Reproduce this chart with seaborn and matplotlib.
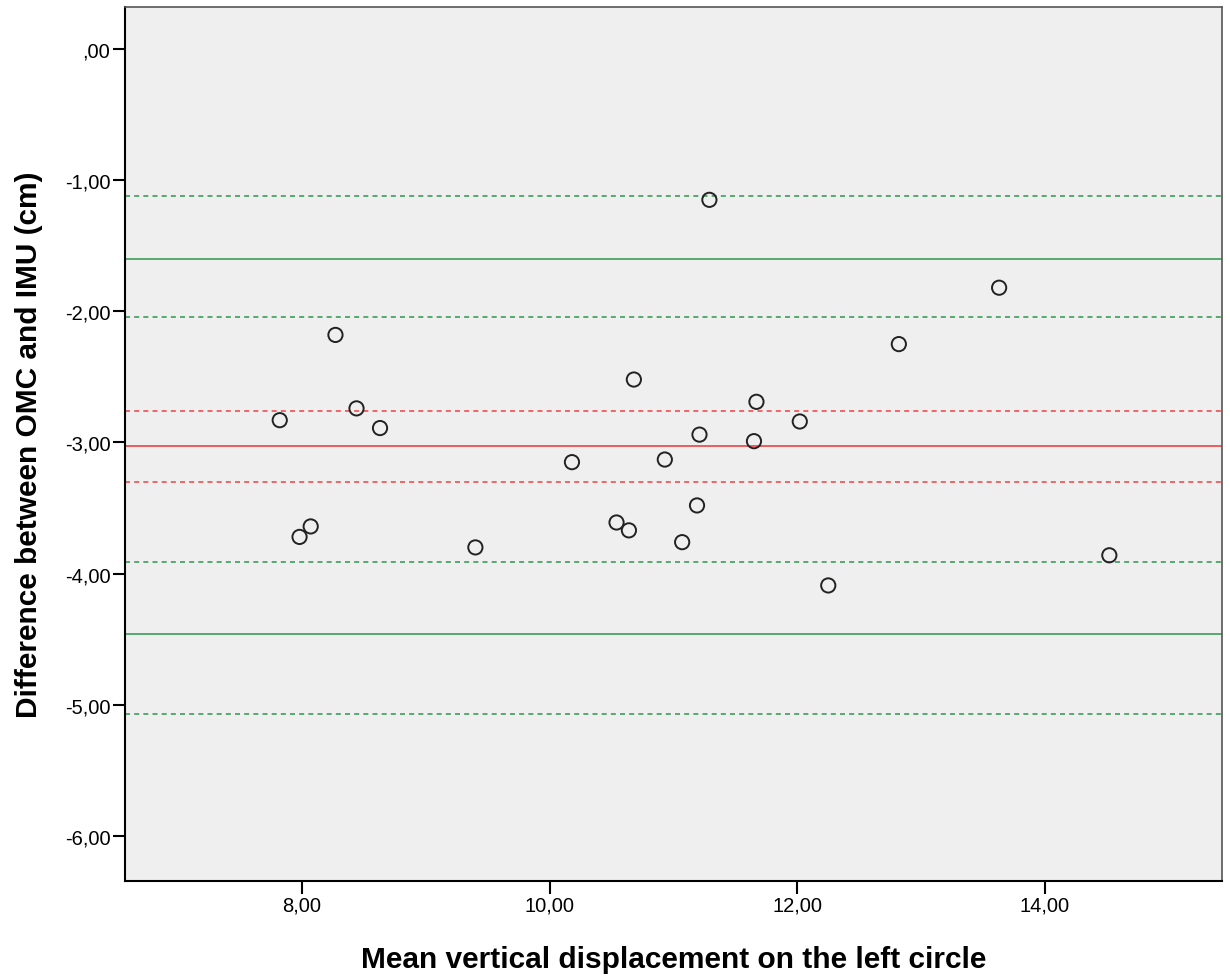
import numpy as np
import pandas as pd
import seaborn as sns
import matplotlib
matplotlib.use("Agg")
import matplotlib.pyplot as plt
from matplotlib.ticker import FuncFormatter

# mean of the two methods / difference between them
mean_disp = [7.82, 8.27, 8.44, 8.63, 7.98, 8.07, 9.40, 10.18, 10.54, 10.64, 10.68, 10.93,
             11.07, 11.19, 11.21, 11.29, 11.65, 11.67, 12.02, 12.25, 12.82, 13.63, 14.52]
diff = [-2.83, -2.18, -2.74, -2.89, -3.72, -3.64, -3.80, -3.15, -3.61, -3.67, -2.52, -3.13,
        -3.76, -3.48, -2.94, -1.15, -2.99, -2.69, -2.84, -4.09, -2.25, -1.82, -3.86]

bias = -3.03
bias_ci = [-2.76, -3.30]
loa = [-1.60, -4.46]
loa_ci = [-1.12, -2.04, -3.91, -5.07]

xticks = [8, 10, 12, 14]
yticks = [0, -1, -2, -3, -4, -5, -6]

df = pd.DataFrame({"mean": mean_disp, "diff": diff})

sns.set_style("white")
plt.rcParams['font.family'] = ['Liberation Sans', 'DejaVu Sans']
plt.rcParams['text.color'] = 'black'
plt.rcParams['axes.labelcolor'] = 'black'
plt.rcParams['xtick.color'] = 'black'
plt.rcParams['ytick.color'] = 'black'

fig = plt.figure(figsize=(12.3, 9.78), dpi=100)
ax = fig.add_axes([0.1016, 0.0982, 0.8919, 0.8936])
ax.set_facecolor('#efefef')

green = '#3c9e5a'
red = '#ee5050'
ax.axhline(bias, color=red, lw=1.3, zorder=1)
for v in bias_ci:
    ax.axhline(v, color=red, lw=1.2, ls=(0, (3, 2.5)), zorder=1)
for v in loa:
    ax.axhline(v, color=green, lw=1.2, zorder=1)
for v in loa_ci:
    ax.axhline(v, color=green, lw=1.2, ls=(0, (3, 2.5)), zorder=1)

sns.scatterplot(data=df, x="mean", y="diff", ax=ax, s=105, facecolor='none',
                edgecolor='#222222', linewidth=1.4, zorder=3)

ax.set_xlim(6.57, 15.43)
ax.set_ylim(-6.343, 0.32)
ax.set_xticks(xticks)
ax.set_yticks(yticks)


def comma_fmt(v, p):
    s = "%.2f" % v
    if v == 0:
        s = s[1:]
    return s.replace(".", ",")


ax.xaxis.set_major_formatter(FuncFormatter(comma_fmt))
ax.yaxis.set_major_formatter(FuncFormatter(comma_fmt))
ax.tick_params(axis='both', length=9, width=1.5, labelsize=14.5, pad=1.5,
               bottom=True, left=True)

for s in ['left', 'bottom']:
    ax.spines[s].set_color('black')
    ax.spines[s].set_linewidth(1.5)
for s in ['top', 'right']:
    ax.spines[s].set_color('#555555')
    ax.spines[s].set_linewidth(1.2)

ax.set_xlabel("Mean vertical displacement on the left circle", fontsize=21.5, fontweight='bold', labelpad=22)
ax.set_ylabel("Difference between OMC and IMU (cm)", fontsize=21.5, fontweight='bold', labelpad=16)

fig.savefig("out.png", dpi=100)
